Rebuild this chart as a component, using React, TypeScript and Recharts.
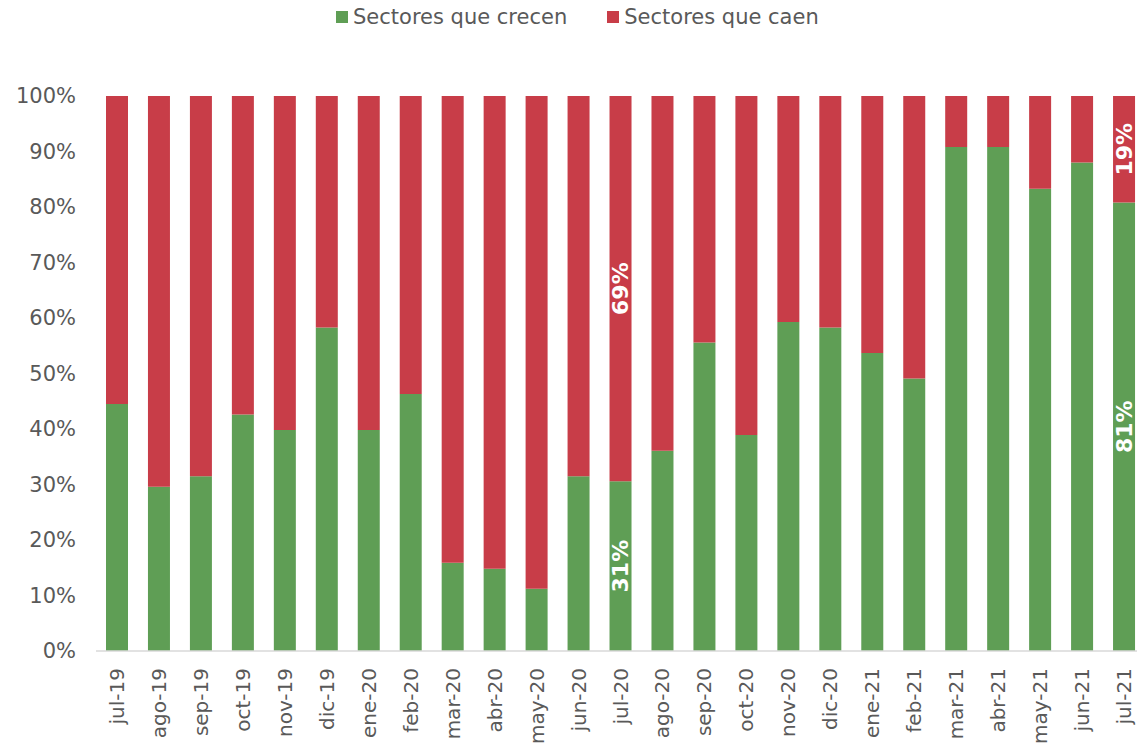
import React from 'react';
import { BarChart, Bar, XAxis, YAxis } from 'recharts';

const months = [
  'jul-19', 'ago-19', 'sep-19', 'oct-19', 'nov-19', 'dic-19', 'ene-20', 'feb-20', 'mar-20',
  'abr-20', 'may-20', 'jun-20', 'jul-20', 'ago-20', 'sep-20', 'oct-20', 'nov-20', 'dic-20',
  'ene-21', 'feb-21', 'mar-21', 'abr-21', 'may-21', 'jun-21', 'jul-21',
];

const crecen = [
  44.5, 29.6, 31.5, 42.6, 39.8, 58.3, 39.8, 46.3, 15.9,
  14.8, 11.2, 31.5, 30.6, 36.1, 55.6, 38.9, 59.3, 58.3,
  53.7, 49.1, 90.8, 90.8, 83.3, 88.0, 80.8,
];

const caen = [
  55.5, 70.4, 68.5, 57.4, 60.2, 41.7, 60.2, 53.7, 84.1,
  85.2, 88.8, 68.5, 69.4, 63.9, 44.4, 61.1, 40.7, 41.7,
  46.3, 50.9, 9.2, 9.2, 16.7, 12.0, 19.2,
];

const labelled = ['jul-20', 'jul-21'];
const yTicks = [0, 10, 20, 30, 40, 50, 60, 70, 80, 90, 100];

const GREEN = '#5F9E55';
const RED = '#C83D48';
const TEXT = '#595959';
const FONT = '"DejaVu Sans", Verdana, sans-serif';

const data = months.map((m, i) => ({ name: m, crecen: crecen[i], caen: caen[i] }));

const MonthTick = (props: any) => {
  const { x, y, payload } = props;
  const ty = y + 9;
  return (
    <text
      x={x}
      y={ty}
      transform={`rotate(-90, ${x}, ${ty})`}
      textAnchor="end"
      dy="0.35em"
      fill={TEXT}
      fontSize={20}
      fontFamily={FONT}
    >
      {payload.value}
    </text>
  );
};

const makeLabel = (values: number[]) => (props: any) => {
  const { x, y, width, height, index } = props;
  if (!labelled.includes(months[index])) return null;
  const cx = x + width / 2;
  const cy = y + height / 2;
  return (
    <text
      key={`lbl-${index}`}
      x={cx}
      y={cy}
      transform={`rotate(-90, ${cx}, ${cy})`}
      textAnchor="middle"
      dy="0.35em"
      fill="#ffffff"
      fontSize={22}
      fontWeight="bold"
      fontFamily={FONT}
    >
      {Math.round(values[index])}%
    </text>
  );
};

const LegendItem = ({ color, text }: { color: string; text: string }) => (
  <div style={{ display: 'flex', alignItems: 'center', marginRight: 40 }}>
    <div style={{ width: 12, height: 12, background: color, marginRight: 5 }} />
    <span style={{ fontSize: 21, color: TEXT, fontFamily: FONT }}>{text}</span>
  </div>
);

export default function App() {
  return (
    <div style={{ position: 'absolute', left: 0, top: 0, width: 1137, height: 748, overflow: 'hidden', background: '#fff' }}>
      <div style={{ position: 'absolute', left: 336, top: 5, display: 'flex' }}>
        <LegendItem color={GREEN} text="Sectores que crecen" />
        <LegendItem color={RED} text="Sectores que caen" />
      </div>
      <BarChart
        width={1145}
        height={748}
        data={data}
        margin={{ top: 96, right: 0, left: 0, bottom: 0 }}
      >
        <XAxis
          dataKey="name"
          interval={0}
          height={97}
          tickLine={false}
          axisLine={{ stroke: '#d9d9d9', strokeWidth: 1.5 }}
          tick={<MonthTick />}
        />
        <YAxis
          width={96}
          domain={[0, 100]}
          ticks={yTicks}
          axisLine={false}
          tickLine={false}
          tickMargin={14}
          tickFormatter={(v: number) => `${v}%`}
          tick={{ fill: TEXT, fontSize: 21, fontFamily: FONT }}
        />
        <Bar dataKey="crecen" stackId="a" fill={GREEN} barSize={22} isAnimationActive={false} label={makeLabel(crecen)} />
        <Bar dataKey="caen" stackId="a" fill={RED} barSize={22} isAnimationActive={false} label={makeLabel(caen)} />
      </BarChart>
    </div>
  );
}
